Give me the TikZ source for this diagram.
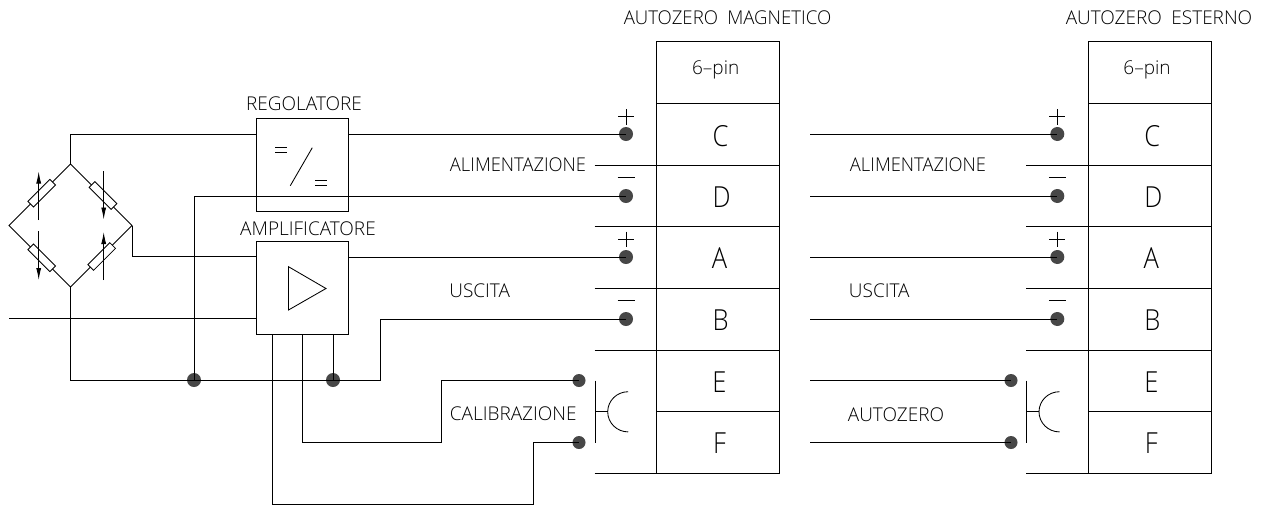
\documentclass[tikz,border=0pt]{standalone}
\usepackage{fontspec}
\setmainfont{Open Sans Light}
\usetikzlibrary{arrows.meta}
\tikzset{
  x=1pt,y=-1pt,
  every path/.style={line width=0.85pt,line join=miter},
  txt/.style={inner sep=0,transform shape,xscale=1,font=\fontsize{19}{19}\selectfont},
  big/.style={inner sep=0,transform shape,xscale=0.88,font=\fontsize{29}{29}\selectfont},
  blockbox/.style={draw,minimum width=92pt,minimum height=92.5pt,inner sep=0},
  bigdot/.style={circle,fill=black!72,minimum size=14pt,inner sep=0},
  smalldot/.style={circle,fill=black!72,minimum size=13pt,inner sep=0},
  resistor/.style={draw,fill=white,minimum width=31pt,minimum height=8pt,inner sep=0},
  varrow/.style={draw,-{Latex[length=12pt,width=5pt]}},
}
\newcommand{\connector}[7]{% #1 prefix, #2 box left, #3 stub left, #4 big dot x, #5 small dot x, #6 letters x, #7 pin x
  \coordinate (#1tl) at (#2,41.5);
  \coordinate (#1br) at (#2+123.3,473);
  \draw (#1tl) rectangle (#1br);
  \foreach \yy in {165,226.5,288,350,473}{\draw (#3,\yy) -- (#2+123.3,\yy);}
  \foreach \yy in {103,411.5}{\draw (#2,\yy) -- (#2+123.3,\yy);}
  \node[big,xscale=1] (#1lc) at (#6,136) {C};
  \node[big] (#1ld) at (#6+1,197) {D};
  \node[big] (#1la) at (#6-1,258) {A};
  \node[big] (#1lb) at (#6,320) {B};
  \node[big] (#1le) at (#6-1,382) {E};
  \node[big] (#1lf) at (#6-1,443) {F};
  \node[txt] (#1pin) at (#7,70) {6–pin};
  \node[bigdot] (#1d1) at (#4,134) {};
  \node[bigdot] (#1d2) at (#4,196) {};
  \node[bigdot] (#1d3) at (#4,257) {};
  \node[bigdot] (#1d4) at (#4,319) {};
  \node[smalldot] (#1d5) at (#5,380.5) {};
  \node[smalldot] (#1d6) at (#5,442.5) {};
  \draw (#4-8,116.5) -- (#4+8,116.5) (#4,109) -- (#4,124.5);
  \draw (#4-8.5,177) -- (#4+8.5,177);
  \draw (#4-8,239) -- (#4+8,239) (#4,231.5) -- (#4,247);
  \draw (#4-8.5,300.7) -- (#4+8.5,300.7);
  \coordinate (#1bt) at (#3+.3,380.7);
  \coordinate (#1bb) at (#3+.3,442.7);
  \coordinate (#1st) at (#3+13,411.8);
  \draw (#1bt) -- (#1bb);
  \draw (#3+.3,411.8) -- (#1st);
  \draw (#3+33.5,391.7) arc[start angle=270,end angle=90,x radius=20.5pt,y radius=-20.1pt];
}
\begin{document}
\begin{tikzpicture}
\useasboundingbox (0,0) rectangle (1268,507);
% bridge
\coordinate (bt) at (70.5,164);
\coordinate (bl) at (9,225.5);
\coordinate (br) at (132,225.5);
\coordinate (bb) at (70.5,287);
\draw (bt) -- (br) -- (bb) -- (bl) -- cycle;
\node[resistor,rotate=45] (r1) at (41.7,193.2) {};
\node[resistor,rotate=135] (r2) at (103,195.5) {};
\node[resistor,rotate=135] (r3) at (41.7,257.8) {};
\node[resistor,rotate=45] (r4) at (101.7,256.5) {};
\coordinate (a1s) at (38.7,220); \coordinate (a1e) at (38.7,171.5);
\coordinate (a2s) at (103.7,171); \coordinate (a2e) at (103.7,219.5);
\coordinate (a3s) at (38.7,231); \coordinate (a3e) at (38.7,280);
\coordinate (a4s) at (103.7,280); \coordinate (a4e) at (103.7,232);
\draw[varrow] (a1s) -- (a1e);
\draw[varrow] (a2s) -- (a2e);
\draw[varrow] (a3s) -- (a3e);
\draw[varrow] (a4s) -- (a4e);
% blocks
\node[blockbox] (reg) at (302,164.8) {};
\node[blockbox] (amp) at (302,288) {};
\node[txt] (tr) at (304,103.5) {REGOLATORE};
\node[txt] (ta) at (308,228.5) {AMPLIFICATORE};
\draw (275,147.5) -- (287,147.5) (275,152) -- (287,152);
\draw (290.3,185.7) -- (312.3,147.7);
\draw (315,180.7) -- (327,180.7) (315,185.3) -- (327,185.3);
\coordinate (t1) at (288.5,266.7); \coordinate (t2) at (326,288.5); \coordinate (t3) at (288.5,310);
\draw (t1) -- (t2) -- (t3) -- cycle;
% connectors
\connector{m}{656.5}{594.7}{626}{579}{720.5}{715.7}
\connector{e}{1088.3}{1026}{1057.3}{1011}{1152.3}{1147}
% junctions
\node[bigdot] (j1) at (194,380) {};
\node[bigdot] (j2) at (333,380) {};
% left wiring
\draw (bt) -- (70.5,134) -- (256,134);
\draw (reg.east |- 0,134) -- (md1.center);
\draw (j1.center) -- (194,196) -- (md2.center);
\draw (br) -- (132,256.5) -- (256,256.5);
\draw (amp.east |- 0,257) -- (md3.center);
\draw (9,318.5) -- (256,318.5);
\draw (bb) -- (70.5,380) -- (380,380) -- (380,319) -- (md4.center);
\draw (333,334) -- (j2.center);
\draw (302,334) -- (302,442.5) -- (441,442.5) -- (441,380.5) -- (md5.center);
\draw (272,334) -- (272,504) -- (533.3,504) -- (533.3,442.5) -- (md6.center);
% right wiring
\draw (810,134) -- (ed1.center);
\draw (810,196) -- (ed2.center);
\draw (810,257) -- (ed3.center);
\draw (810,319) -- (ed4.center);
\draw (810,380.5) -- (ed5.center);
\draw (810,442.5) -- (ed6.center);
% labels
\node[txt,xscale=.98] (h1) at (727.5,18) {AUTOZERO\hspace{.5em}MAGNETICO};
\node[txt] (h2) at (1159,18) {AUTOZERO\hspace{.5em}ESTERNO};
\node[txt,xscale=.965] (l1) at (518,164.5) {ALIMENTAZIONE};
\node[txt,xscale=.965] (l2) at (918,164.5) {ALIMENTAZIONE};
\node[txt] (l3) at (479.7,291) {USCITA};
\node[txt] (l4) at (879.3,291) {USCITA};
\node[txt] (l5) at (513.3,413.5) {CALIBRAZIONE};
\node[txt] (l6) at (896,415) {AUTOZERO};
\end{tikzpicture}
\end{document}
